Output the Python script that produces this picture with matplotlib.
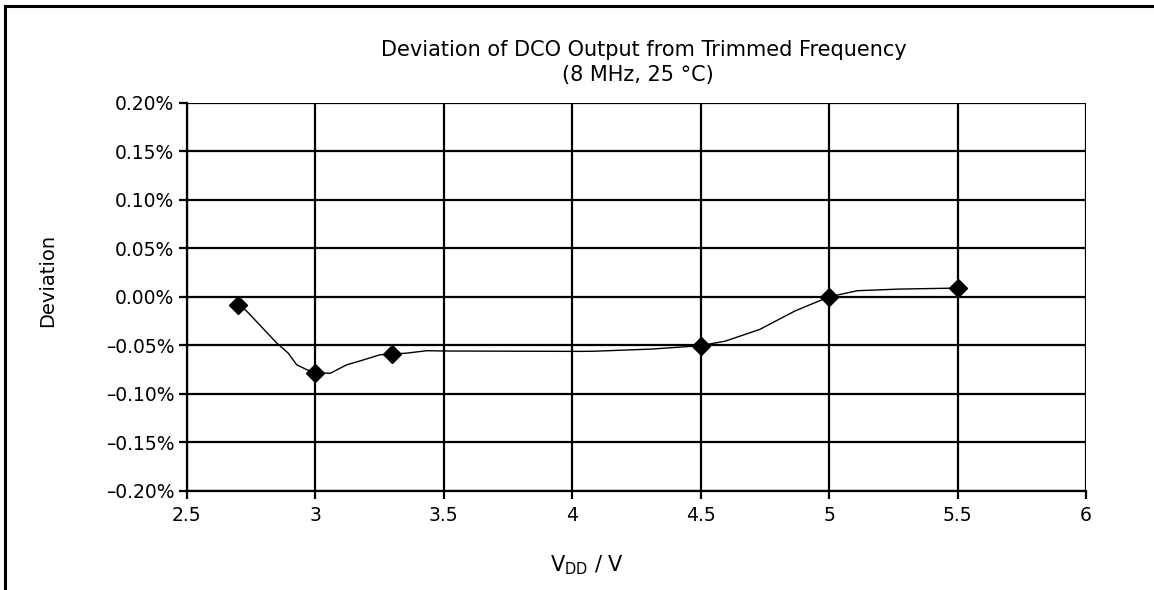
import matplotlib
matplotlib.use("Agg")
import matplotlib.pyplot as plt
from matplotlib.lines import Line2D

plt.rcParams['font.family'] = ['DejaVu Sans']
plt.rcParams['mathtext.fontset'] = 'dejavusans'

# measured points (markers)
vdd_pts = [2.7, 3.0, 3.3, 4.5, 5.0, 5.5]
dev_pts = [-0.008, -0.078, -0.059, -0.0503, 0.0, 0.009]

# smoothed trend curve
curve_v = [2.70, 2.733, 2.85, 2.895, 2.928, 2.967, 3.00, 3.058, 3.123, 3.175,
           3.252, 3.30, 3.356, 3.434, 3.5, 4.03, 4.09, 4.31, 4.5, 4.595,
           4.73, 4.867, 5.0, 5.11, 5.275, 5.5]
curve_dev = [-0.008, -0.0146, -0.0475, -0.058, -0.070, -0.075, -0.078, -0.0788,
             -0.070, -0.066, -0.0597, -0.059, -0.058, -0.0555, -0.0558, -0.0562,
             -0.056, -0.0538, -0.0503, -0.0457, -0.0336, -0.0146, 0.0, 0.0063,
             0.008, 0.009]

x_ticks = [2.5, 3, 3.5, 4, 4.5, 5, 5.5, 6]
x_tick_labels = ["2.5", "3", "3.5", "4", "4.5", "5", "5.5", "6"]
y_ticks = [0.20, 0.15, 0.10, 0.05, 0.00, -0.05, -0.10, -0.15, -0.20]
y_tick_labels = ["0.20%", "0.15%", "0.10%", "0.05%", "0.00%",
                 "\u20130.05%", "\u20130.10%", "\u20130.15%", "\u20130.20%"]

fig = plt.figure(figsize=(11.54, 5.90), dpi=100)
ax = fig.add_axes([0.1618, 0.1678, 0.9411 - 0.1618, 0.826 - 0.1678])

ax.plot(curve_v, curve_dev, color='black', linewidth=1.0, zorder=3)
ax.plot(vdd_pts, dev_pts, linestyle='none', marker='D', markersize=9,
        color='black', zorder=4)

ax.set_xlim(2.5, 6)
ax.set_ylim(-0.20, 0.20)
ax.set_xticks(x_ticks)
ax.set_xticklabels(x_tick_labels)
ax.set_yticks(y_ticks)
ax.set_yticklabels(y_tick_labels)
ax.grid(True, color='black', linewidth=1.6)
ax.set_axisbelow(True)
for s in ax.spines.values():
    s.set_linewidth(1.6)
ax.spines['top'].set_visible(False)
ax.spines['right'].set_visible(False)
ax.tick_params(axis='both', direction='out', length=6, width=1.6,
               labelsize=13.5)
ax.tick_params(axis='x', pad=5)
ax.tick_params(axis='y', pad=3)

fig.text(644 / 1154, 1 - 50 / 590, "Deviation of DCO Output from Trimmed Frequency",
         ha='center', va='center', fontsize=15)
fig.text(638 / 1154, 1 - 75 / 590, "(8 MHz, 25 \u00b0C)", ha='center',
         va='center', fontsize=15)
fig.text(47.5 / 1154, 1 - 280 / 590, "Deviation", rotation=90, ha='center',
         va='center', fontsize=14)
fig.text(587 / 1154, 1 - 565 / 590, r"V$_{\mathregular{DD}}$ / V", ha='center',
         va='center', fontsize=15)

# outer frame (top and left edges visible)
fig.add_artist(Line2D([5 / 1154, 5 / 1154], [0, 1 - 6 / 590],
                      transform=fig.transFigure, color='black', linewidth=2.2))
fig.add_artist(Line2D([5 / 1154, 1.0], [1 - 6 / 590, 1 - 6 / 590],
                      transform=fig.transFigure, color='black', linewidth=2.2))

fig.savefig("out.png", dpi=100)
